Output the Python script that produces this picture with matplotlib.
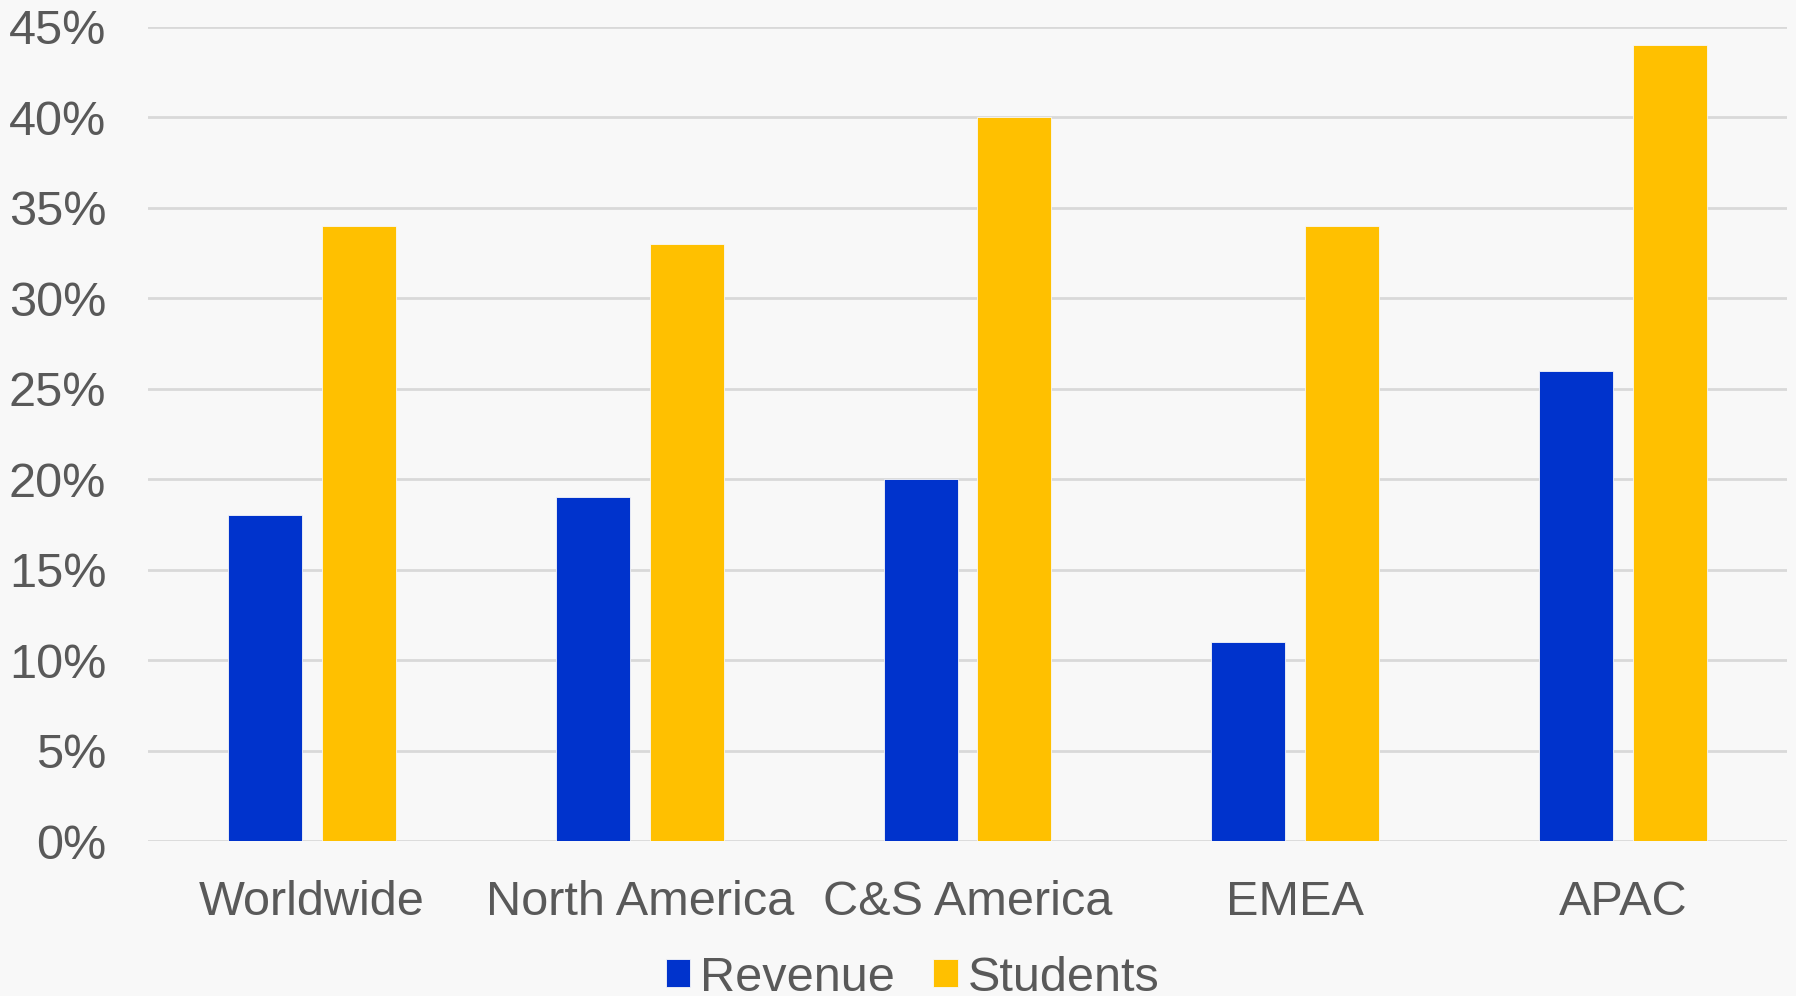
import numpy as np
from matplotlib import pyplot as plt
from matplotlib.ticker import PercentFormatter

categories = ["Worldwide", "North America", "C&S America", "EMEA", "APAC"]
revenue = [18, 19, 20, 11, 26]
students = [34, 33, 40, 34, 44]

plt.rcParams["font.family"] = ["Liberation Sans", "DejaVu Sans"]
bg = "#F8F8F8"
text_color = "#595959"

fig = plt.figure(figsize=(17.96, 9.96), dpi=100, facecolor=bg)
ax = fig.add_axes([0.0824, 0.1556, 0.9126, 0.8173], facecolor=bg)

x = np.arange(len(categories))
w = 0.226
off = 0.143
ax.bar(x - off, revenue, w, color="#0033CC", label="Revenue",
       edgecolor=bg, linewidth=0.6, zorder=3)
ax.bar(x + off, students, w, color="#FFC000", label="Students",
       edgecolor=bg, linewidth=0.6, zorder=3)

ax.set_xlim(-0.5, len(categories) - 0.5)
ax.set_ylim(0, 45)
ax.set_yticks(range(0, 46, 5))
ax.yaxis.set_major_formatter(PercentFormatter(decimals=0))
ax.set_xticks(x)
ax.set_xticklabels(categories)
ax.grid(axis="y", color="#D9D9D9", linewidth=2, zorder=0)
ax.tick_params(axis="y", length=0, pad=30, labelsize=35, labelcolor=text_color)
ax.tick_params(axis="x", length=0, pad=28, labelsize=35, labelcolor=text_color)
for s in ["top", "right", "left", "bottom"]:
    ax.spines[s].set_visible(False)

fig.legend(loc="center", bbox_to_anchor=(0.508, 0.018), ncol=2, frameon=False,
           fontsize=35, labelcolor=text_color, handlelength=0.5, handleheight=0.5,
           handletextpad=0.2, columnspacing=0.8, borderpad=0)

fig.savefig("out.png", dpi=100, facecolor=bg)
